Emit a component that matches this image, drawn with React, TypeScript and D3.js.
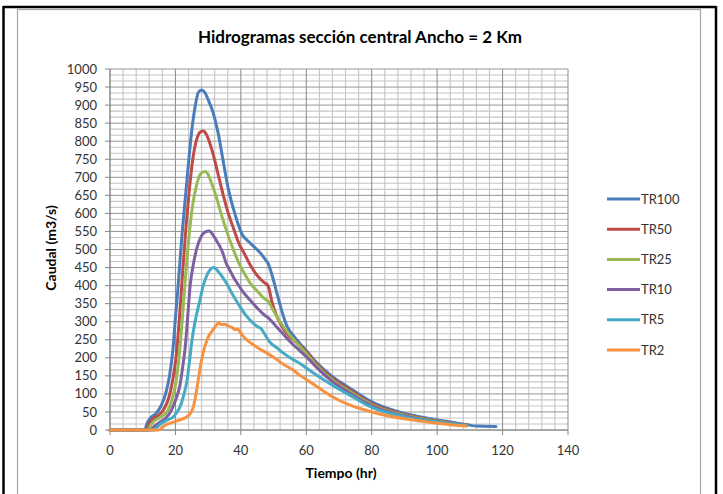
import React from "react";
import * as d3 from "d3";

const seriesNames = ["TR100", "TR50", "TR25", "TR10", "TR5", "TR2"];
const seriesColors = ["#4A7EBB", "#BE4B48", "#98B954", "#7D60A0", "#46AAC5", "#F69240"];

const tr100: [number, number][] = [[0,0],[10.5,0],[11.5,22],[12.5,35],[14,45],[15.5,65],[17,100],[18.2,150],[19.2,220],[20,310],[21,420],[22,540],[23,640],[24,740],[25,830],[26,895],[27,935],[28,942],[29,935],[30,915],[31.5,880],[33,825],[34.5,750],[36,675],[37.5,620],[39,575],[40.5,540],[42,525],[44,508],[46,490],[47.5,472],[48.3,462],[49.5,430],[51,380],[52.5,330],[54,290],[56,262],[58,240],[60,220],[63,188],[68,148],[73,118],[80,78],[90,46],[95,36],[100,28],[105,21],[109,15],[112,11],[118,10]];
const tr50: [number, number][] = [[0,0],[11,0],[12,18],[13,30],[15,42],[16.5,58],[18,90],[19.2,140],[20.3,210],[21.3,320],[22.3,450],[23.3,570],[24.3,670],[25.3,750],[26.5,805],[27.5,825],[28.5,828],[29.5,818],[30.5,795],[31.5,765],[33,710],[34.5,655],[36,605],[37.7,560],[39.5,515],[41,490],[43,455],[45,428],[46.9,410],[48.3,400],[49.5,355],[51,315],[53,280],[55,258],[58,235],[60,216],[63,184],[68,143],[73,113],[80,73],[90,43],[100,25],[105,19],[109,14]];
const tr25: [number, number][] = [[0,0],[11.5,0],[12.5,14],[13.5,25],[15.5,36],[17.5,52],[19,85],[20.3,140],[21.3,220],[22.3,330],[23.3,450],[24.3,550],[25.3,625],[26.5,680],[27.7,710],[29,716],[30,708],[31,685],[32.5,645],[34,598],[35.5,555],[37.7,500],[39.5,460],[41,435],[43,405],[45,385],[47,365],[48.5,355],[50,330],[52,300],[55,262],[58,232],[60,212],[63,180],[68,138],[73,108],[80,70],[90,41],[100,24],[105,18],[109,13]];
const tr10: [number, number][] = [[0,0],[12.2,0],[13.5,10],[15.3,22],[17,33],[18.3,47],[19.5,70],[20.5,95],[21.4,125],[22.3,180],[23,230],[23.8,320],[24.5,400],[25.5,460],[26.6,505],[27.8,535],[29,548],[30.3,551],[31.5,540],[32.5,525],[33.5,510],[34.5,490],[35.5,462],[36.5,445],[37.7,424],[39,405],[40.5,385],[42.8,360],[45,338],[47,320],[48.5,310],[50.5,290],[53,265],[55,245],[58,220],[60,203],[63,175],[68,134],[73,104],[80,67],[90,39],[100,23],[105,18],[109,13]];
const tr5: [number, number][] = [[0,0],[13.5,0],[14.4,8],[16,20],[18,30],[19.3,36],[20.5,50],[21.4,64],[22.5,95],[23.5,135],[24.3,190],[25,245],[26,300],[27.5,360],[28.5,400],[29.6,428],[30.7,445],[31.8,450],[33,440],[34.3,425],[35.7,405],[37.5,375],[39.7,342],[41.5,318],[43.5,298],[45,287],[46,282],[47,270],[48,255],[49,242],[51,228],[53,213],[56,195],[58,185],[60,172],[63,153],[68,124],[73,98],[80,63],[90,37],[100,22],[105,17],[109,12]];
const tr2: [number, number][] = [[0,0],[15,0],[15.8,6],[17,14],[18.5,19],[20,24],[21.4,28],[23,34],[24.5,45],[25.5,65],[26.3,100],[27,140],[27.7,180],[28.5,215],[29.6,248],[30.5,265],[31.5,278],[32.5,290],[33.2,297],[34,292],[35,293],[35.7,290],[36.5,287],[37.5,283],[38.2,278],[39,280],[39.5,275],[40.5,262],[41.9,249],[43.5,238],[45.5,226],[48,213],[51,195],[53,182],[56,166],[58,152],[60,140],[63,122],[68,92],[73,70],[80,50],[90,31],[100,19],[105,14],[109,11]];

const seriesData = [tr100, tr50, tr25, tr10, tr5, tr2];

const xTicks = [0, 20, 40, 60, 80, 100, 120, 140];
const yTicks = d3.range(0, 1001, 50);

const FONT = "Lato, 'Open Sans', sans-serif";

export default function App() {
  const x = d3.scaleLinear().domain([0, 140]).range([110, 568]);
  const y = d3.scaleLinear().domain([0, 1000]).range([430, 69]);
  const line = d3
    .line<[number, number]>()
    .x((d) => x(d[0]))
    .y((d) => y(d[1]))
    .curve(d3.curveMonotoneX);

  const minorX = d3.range(0, 140.001, 4).filter((v) => v % 20 !== 0);
  const minorY = d3.range(0, 1000.001, 50 / 3).filter((v) => Math.abs(v / 50 - Math.round(v / 50)) > 1e-6);

  const legendY0 = 199;
  const legendStep = 30.2;

  return (
    <svg
      width={723}
      height={494}
      style={{ position: "absolute", left: 0, top: 0, background: "#fff" }}
    >
      {/* outer black frame */}
      <line x1={3} y1={7} x2={716} y2={7} stroke="#000" strokeWidth={2.5} />
      <line x1={3.5} y1={6} x2={3.5} y2={494} stroke="#000" strokeWidth={2.5} />
      <line x1={716} y1={6} x2={716} y2={494} stroke="#000" strokeWidth={2.5} />
      {/* chart area border */}
      <rect x={17.5} y={9.5} width={683} height={500} fill="#fff" stroke="#a6a6a6" strokeWidth={1.2} />

      {/* minor grid */}
      {minorX.map((v) => (
        <line key={"mx" + v} x1={x(v)} x2={x(v)} y1={y(1000)} y2={y(0)} stroke="#c6c6c6" strokeWidth={1.1} />
      ))}
      {minorY.map((v) => (
        <line key={"my" + v} x1={x(0)} x2={x(140)} y1={y(v)} y2={y(v)} stroke="#c6c6c6" strokeWidth={1.1} />
      ))}
      {/* major grid */}
      {xTicks.map((v) => (
        <line key={"gx" + v} x1={x(v)} x2={x(v)} y1={y(1000)} y2={y(0)} stroke="#8a8a8a" strokeWidth={1} />
      ))}
      {yTicks.map((v) => (
        <line key={"gy" + v} x1={x(0)} x2={x(140)} y1={y(v)} y2={y(v)} stroke="#959595" strokeWidth={1} />
      ))}

      {/* axes */}
      <line x1={x(0)} x2={x(0)} y1={y(1000)} y2={y(0)} stroke="#868686" strokeWidth={1} />
      <line x1={x(0)} x2={x(140)} y1={y(0)} y2={y(0)} stroke="#868686" strokeWidth={1} />
      {yTicks.map((v) => (
        <line key={"ty" + v} x1={x(0) - 5} x2={x(0)} y1={y(v)} y2={y(v)} stroke="#868686" strokeWidth={1} />
      ))}
      {xTicks.map((v) => (
        <line key={"tx" + v} x1={x(v)} x2={x(v)} y1={y(0)} y2={y(0) + 5} stroke="#868686" strokeWidth={1} />
      ))}

      {/* tick labels */}
      {yTicks.map((v) => (
        <text
          key={"ly" + v}
          x={x(0) - 13}
          y={y(v)}
          dy="0.35em"
          textAnchor="end"
          fontFamily={FONT}
          fontSize={13}
          fill="#333"
        >
          {v}
        </text>
      ))}
      {xTicks.map((v) => (
        <text
          key={"lx" + v}
          x={x(v)}
          y={y(0) + 20}
          dy="0.35em"
          textAnchor="middle"
          fontFamily={FONT}
          fontSize={13}
          fill="#333"
        >
          {v}
        </text>
      ))}

      {/* series */}
      {seriesData.map((d, i) => (
        <path
          key={seriesNames[i]}
          d={line(d) || ""}
          fill="none"
          stroke={seriesColors[i]}
          strokeWidth={3}
          strokeLinejoin="round"
          strokeLinecap="round"
        />
      ))}

      {/* titles */}
      <text x={360} y={37} dy="0.35em" textAnchor="middle" fontFamily={FONT} fontWeight="bold" fontSize={17} fill="#000">
        Hidrogramas sección central Ancho = 2 Km
      </text>
      <text x={341} y={473} dy="0.35em" textAnchor="middle" fontFamily={FONT} fontWeight="bold" fontSize={14} fill="#000">
        Tiempo (hr)
      </text>
      <text
        transform={`translate(51,248) rotate(-90)`}
        dy="0.35em"
        textAnchor="middle"
        fontFamily={FONT}
        fontWeight="bold"
        fontSize={14}
        fill="#000"
      >
        Caudal (m3/s)
      </text>

      {/* legend */}
      {seriesNames.map((n, i) => (
        <g key={"lg" + n} transform={`translate(0,${legendY0 + i * legendStep})`}>
          <line x1={607} x2={640} y1={0} y2={0} stroke={seriesColors[i]} strokeWidth={3} />
          <text x={641} y={0} dy="0.35em" fontFamily={FONT} fontSize={13} fill="#333">
            {n}
          </text>
        </g>
      ))}
    </svg>
  );
}
